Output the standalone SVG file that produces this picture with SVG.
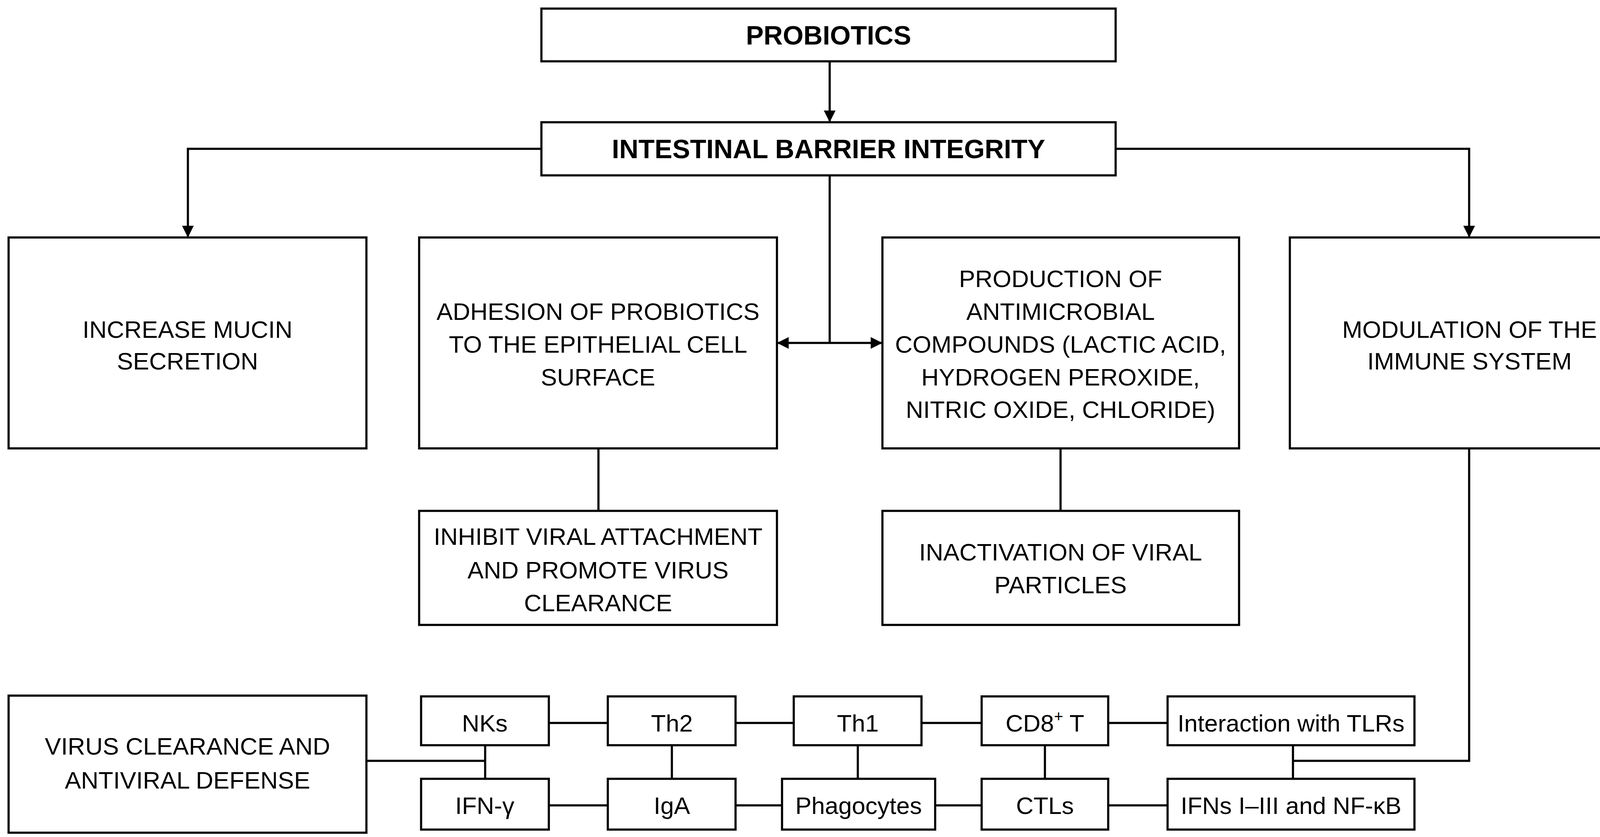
<svg xmlns="http://www.w3.org/2000/svg" width="4237" height="2143" viewBox="0 0 4237 2143">
<style>
rect{fill:#fff;stroke:#000;stroke-width:5.5}
text{font-family:"Liberation Sans",Arial,sans-serif;font-size:62px;text-anchor:middle;fill:#000}
.t{font-weight:bold;font-size:68px}
#conn path{fill:none;stroke:#000;stroke-width:5.5}
</style>
<defs><marker id="a" markerWidth="10" markerHeight="10" refX="9" refY="5" orient="auto" markerUnits="userSpaceOnUse" viewBox="0 0 10 10"><path d="M0,0L10,5L0,10z"/></marker>
<marker id="b" viewBox="0 0 10 10" refX="9" refY="5" markerWidth="30" markerHeight="30" orient="auto-start-reverse" markerUnits="userSpaceOnUse"><path d="M0,0L10,5L0,10z"/></marker></defs>
<g id="conn">
<path d="M2124,157V310" marker-end="url(#b)"/>
<path d="M1386,381H481V605" marker-end="url(#b)"/>
<path d="M2856,381H3761V605" marker-end="url(#b)"/>
<path d="M2124,449V878"/>
<path d="M1992,878H2256" marker-start="url(#b)" marker-end="url(#b)"/>
<path d="M1532,1148V1308M2715,1148V1308"/>
<path d="M3761,1148V1948H3310M938,1948H1242"/>
<path d="M1242,1908V1994M1720,1908V1994M2196,1908V1994M2675,1908V1994M3310,1908V1994"/>
<path d="M1405,1851H1556M1883,1851H2032M2359,1851H2513M2837,1851H2989"/>
<path d="M1405,2062H1556M1883,2062H2002M2394,2062H2513M2837,2062H2989"/>
</g>
<g id="probiotics"><rect x="1386" y="22" width="1470" height="135"/><text class="t" x="2121" y="114">PROBIOTICS</text></g>
<g id="barrier"><rect x="1386" y="313" width="1470" height="136"/><text class="t" x="2121" y="405">INTESTINAL BARRIER INTEGRITY</text></g>
<g id="mucin"><rect x="22" y="608" width="916" height="540"/><text x="480" y="865">INCREASE MUCIN</text><text x="480" y="946">SECRETION</text></g>
<g id="adhesion"><rect x="1073" y="608" width="916" height="540"/><text x="1531" y="819">ADHESION OF PROBIOTICS</text><text x="1531" y="903">TO THE EPITHELIAL CELL</text><text x="1531" y="987">SURFACE</text></g>
<g id="production"><rect x="2259" y="608" width="913" height="540"/><text x="2715" y="735">PRODUCTION OF</text><text x="2715" y="819">ANTIMICROBIAL</text><text x="2715" y="903">COMPOUNDS (LACTIC ACID,</text><text x="2715" y="987">HYDROGEN PEROXIDE,</text><text x="2715" y="1070">NITRIC OXIDE, CHLORIDE)</text></g>
<g id="modulation"><rect x="3302" y="608" width="921" height="540"/><text x="3762" y="865">MODULATION OF THE</text><text x="3762" y="946">IMMUNE SYSTEM</text></g>
<g id="inhibit"><rect x="1073" y="1308" width="916" height="292"/><text x="1531" y="1395">INHIBIT VIRAL ATTACHMENT</text><text x="1531" y="1481">AND PROMOTE VIRUS</text><text x="1531" y="1565">CLEARANCE</text></g>
<g id="inactivation"><rect x="2259" y="1308" width="913" height="292"/><text x="2715" y="1435">INACTIVATION OF VIRAL</text><text x="2715" y="1519">PARTICLES</text></g>
<g id="virus"><rect x="22" y="1781" width="916" height="351"/><text x="480" y="1932">VIRUS CLEARANCE AND</text><text x="480" y="2019">ANTIVIRAL DEFENSE</text></g>
<g id="nks"><rect x="1078" y="1783" width="327" height="125"/><text x="1241" y="1873">NKs</text></g>
<g id="th2"><rect x="1556" y="1783" width="327" height="125"/><text x="1720" y="1873">Th2</text></g>
<g id="th1"><rect x="2032" y="1783" width="327" height="125"/><text x="2196" y="1873">Th1</text></g>
<g id="cd8"><rect x="2513" y="1783" width="324" height="125"/><text x="2675" y="1873">CD8<tspan font-size="40" dy="-25">+</tspan><tspan dy="25"> T</tspan></text></g>
<g id="tlr"><rect x="2989" y="1783" width="632" height="125"/><text x="3305" y="1873">Interaction with TLRs</text></g>
<g id="ifng"><rect x="1078" y="1994" width="327" height="130"/><text x="1241" y="2084">IFN-γ</text></g>
<g id="iga"><rect x="1556" y="1994" width="327" height="130"/><text x="1720" y="2084">IgA</text></g>
<g id="phago"><rect x="2002" y="1994" width="392" height="130"/><text x="2198" y="2084">Phagocytes</text></g>
<g id="ctls"><rect x="2513" y="1994" width="324" height="130"/><text x="2675" y="2084">CTLs</text></g>
<g id="ifns"><rect x="2989" y="1994" width="632" height="130"/><text x="3305" y="2084">IFNs I–III and NF-κB</text></g>
</svg>
